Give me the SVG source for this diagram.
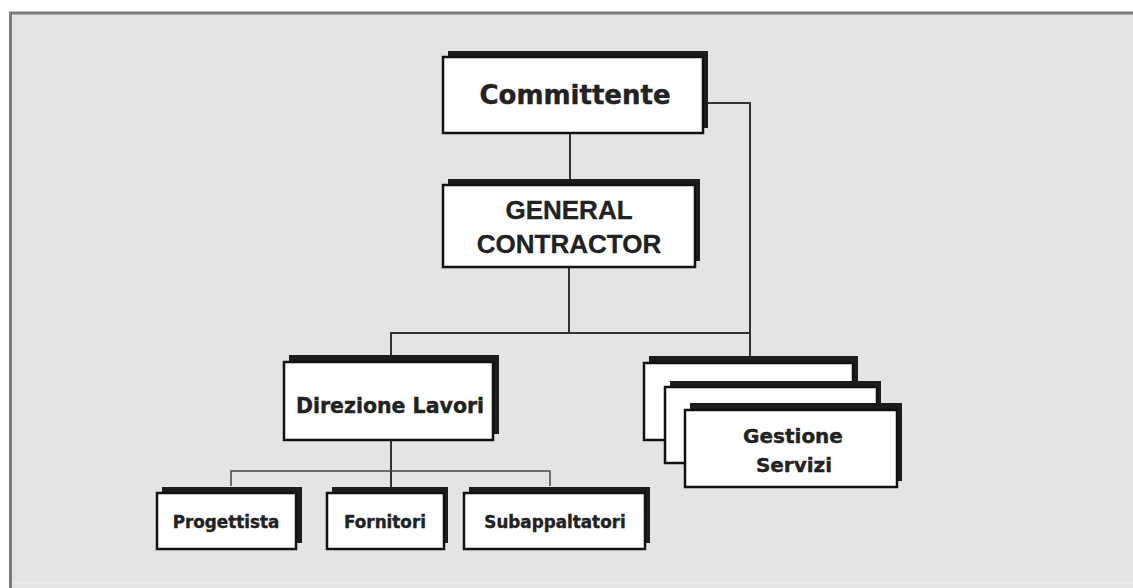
<svg xmlns="http://www.w3.org/2000/svg" width="1133" height="588" viewBox="0 0 1133 588">
<style>
.sh{fill:#1c1c1c}
.bx{fill:#ffffff;stroke:#111;stroke-width:2.5}
.ln{fill:none;stroke:#333;stroke-width:2}
.lt{fill:none;stroke:#444;stroke-width:1.5}
.v{font-family:"DejaVu Sans",Verdana,sans-serif;font-weight:bold;fill:#222;stroke:#222;stroke-width:0.4;text-anchor:middle}
.a{font-family:"Liberation Sans",Arial,sans-serif;font-weight:bold;fill:#222;stroke:#222;stroke-width:0.3;text-anchor:middle}
</style>
<defs>
<filter id="blur" x="-5%" y="-10%" width="110%" height="120%"><feGaussianBlur stdDeviation="0.7"/></filter>
</defs>
<rect x="0" y="0" width="1133" height="588" fill="#ffffff"/>
<rect id="panel" x="10.5" y="13" width="1140" height="590" fill="#e4e4e4" stroke="#7a7a7a" stroke-width="3"/>
<line x1="12" y1="583" x2="1133" y2="583" stroke="#ececec" stroke-width="1.5"/>
<g id="connectors">
<polyline class="ln" points="706,103 750,103 750,363"/>
<line class="ln" x1="570" y1="133" x2="570" y2="185"/>
<line class="ln" x1="569" y1="267" x2="569" y2="333"/>
<polyline class="ln" points="391,360 391,333 750,333"/>
<line class="ln" x1="391" y1="440" x2="391" y2="488"/>
<polyline class="lt" points="231,486 231,471 550,471 550,486"/>
</g>
<g id="committente">
<rect class="sh" x="448" y="51" width="260" height="77" filter="url(#blur)"/>
<rect class="bx" x="443" y="57" width="260" height="76"/>
<text class="v" x="575" y="104" font-size="26">Committente</text>
</g>
<g id="general-contractor">
<rect class="sh" x="448" y="179" width="252" height="82" filter="url(#blur)"/>
<rect class="bx" x="443" y="185" width="252" height="82"/>
<text class="a" x="569" y="219" font-size="26">GENERAL</text>
<text class="a" x="569" y="253" font-size="26">CONTRACTOR</text>
</g>
<g id="direzione-lavori">
<rect class="sh" x="289" y="355" width="210" height="79" filter="url(#blur)"/>
<rect class="bx" x="284" y="362" width="209" height="78"/>
<text class="v" x="390" y="413" font-size="20.5">Direzione Lavori</text>
</g>
<g id="gestione-servizi">
<rect class="sh" x="649" y="356" width="209" height="78" filter="url(#blur)"/>
<rect class="bx" x="644" y="363" width="209" height="77"/>
<rect class="sh" x="670" y="381" width="211" height="77" filter="url(#blur)"/>
<rect class="bx" x="665" y="387" width="212" height="76"/>
<rect class="sh" x="690" y="403" width="212" height="78" filter="url(#blur)"/>
<rect class="bx" x="685" y="410" width="212" height="77"/>
<text class="v" x="793" y="443" font-size="20">Gestione</text>
<text class="v" x="794" y="472" font-size="20">Servizi</text>
</g>
<g id="progettista">
<rect class="sh" x="162" y="487" width="140" height="56" filter="url(#blur)"/>
<rect class="bx" x="157" y="493" width="139" height="56"/>
<text class="v" x="226" y="528" font-size="16.8">Progettista</text>
</g>
<g id="fornitori">
<rect class="sh" x="332" y="487" width="116" height="56" filter="url(#blur)"/>
<rect class="bx" x="327" y="493" width="117" height="56"/>
<text class="v" x="385" y="528" font-size="16.8">Fornitori</text>
</g>
<g id="subappaltatori">
<rect class="sh" x="469" y="487" width="181" height="56" filter="url(#blur)"/>
<rect class="bx" x="464" y="493" width="181" height="56"/>
<text class="v" x="555" y="528" font-size="16.8">Subappaltatori</text>
</g>
</svg>
